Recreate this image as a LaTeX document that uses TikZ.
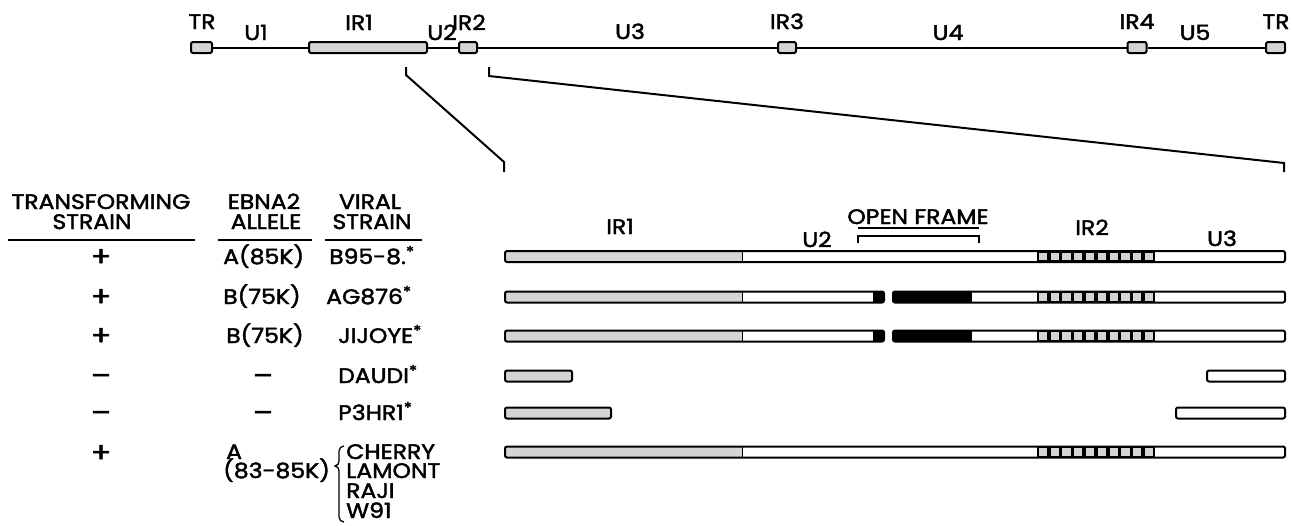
\documentclass[tikz,border=0pt]{standalone}
\usepackage{fontspec}
\setmainfont{Poppins}
\newfontfamily\lblfont{Poppins}[FakeBold=2,FakeStretch=1.12]
\definecolor{stipgray}{RGB}{212,212,212}
\newcommand\ckr[1]{%
  \fill[black] (1037,#1-5.5) rectangle (1155,#1+5.5);
  \foreach \i in {0,...,9}{\fill[stipgray] (1038.8+\i*11.8,#1-3.8) rectangle ++(8.2,7.6);}
}
\newcommand\myast{\raisebox{7pt}{\fontsize{15}{15}\selectfont *}}
\begin{document}
\begin{tikzpicture}[x=1pt,y=-1pt,
  lbl/.style={font=\lblfont\fontsize{21}{22}\selectfont, inner sep=0pt, anchor=base, text height=14pt, text depth=0pt},
  lblw/.style={lbl, anchor=base west},
  sign/.style={lbl, font=\lblfont\fontsize{27}{28}\selectfont},
  topbox/.style={draw, line width=2pt, fill=stipgray, rounded corners=2pt, inner sep=0pt, minimum height=11pt},
  outl/.style={draw=black, line width=2pt, rounded corners=2pt},
  lin/.style={line width=2pt},
  rule/.style={line width=1.8pt}
]
\useasboundingbox (0,0) rectangle (1292,525);
% ---------- top genome map ----------
\node[topbox, minimum width=21pt] (tr1) at (201.5,47.5) {};
\node[topbox, minimum width=118pt] (ir1) at (368,47.5) {};
\node[topbox, minimum width=18pt] (ir2) at (468,47.5) {};
\node[topbox, minimum width=18pt] (ir3) at (787,47.5) {};
\node[topbox, minimum width=19pt] (ir4) at (1137,47.5) {};
\node[topbox, minimum width=19pt] (tr2) at (1275.5,47.5) {};
\draw[lin] (tr1.east) -- (ir1.west);
\draw[lin] (ir1.east) -- (ir2.west);
\draw[lin] (ir2.east) -- (ir3.west);
\draw[lin] (ir3.east) -- (ir4.west);
\draw[lin] (ir4.east) -- (tr2.west);
\node[lbl] (ltr1) at (202,29) {TR};
\node[lbl] (lu1) at (256,40) {U1};
\node[lbl] (lir1) at (359,30) {IR1};
\node[lbl] (lu2) at (442,40) {U2};
\node[lbl] (lir2) at (469,30) {IR2};
\node[lbl] (lu3) at (630,39) {U3};
\node[lbl] (lir3) at (787,29) {IR3};
\node[lbl] (lu4) at (948,40) {U4};
\node[lbl] (lir4) at (1137,29) {IR4};
\node[lbl] (lu5) at (1195,40) {U5};
\node[lbl] (ltr2) at (1276,29) {TR};
% ---------- expansion lines ----------
\coordinate (ea) at (406,67);
\coordinate (eb) at (504,172);
\coordinate (ec) at (489,67);
\coordinate (ed) at (1284,172);
\draw[lin] (ea) -- (406,75) -- (504,162) -- (eb);
\draw[lin] (ec) -- (489,76) -- (1284,163) -- (ed);
% ---------- labels above bars ----------
\node[lbl] (bir1) at (620,234) {IR1};
\node[lbl] (bu2) at (817,247) {U2};
\node[lbl] (bof) at (918,224) {OPEN FRAME};
\draw[line width=1.4pt] (858,228) -- (979,228);
\draw[line width=1.8pt] (858,243) -- (858,236) -- (979,236) -- (979,243);
\node[lbl] (bir2) at (1092,235) {IR2};
\node[lbl] (bu3) at (1222,246) {U3};
% ---------- table headings ----------
\node[lbl] (h1a) at (101,209) {TRANSFORMING};
\node[lbl] (h1b) at (92,229) {STRAIN};
\node[lbl] (h2a) at (264,209) {EBNA2};
\node[lbl] (h2b) at (266,229) {ALLELE};
\node[lbl] (h3a) at (370,209) {VIRAL};
\node[lbl] (h3b) at (372,229) {STRAIN};
\draw[rule] (8,240) -- (195,240);
\draw[rule] (218,240) -- (312,240);
\draw[rule] (325,240) -- (422,240);
% ---------- table rows ----------
\foreach \y/\n in {266/p1,306/p2,345/p3,462/p6}{\node[sign] (\n) at (101,\y) {+};}
\foreach \y/\n in {385/m4,422/m5}{\node[sign] (\n) at (101,\y) {\textendash};}
\node[lblw] (a1) at (223,264) {A(85K)};
\node[lblw] (a2) at (223,304) {B(75K)};
\node[lblw] (a3) at (226,343) {B(75K)};
\node[sign] (a4) at (263,385) {\textendash};
\node[sign] (a5) at (263,422) {\textendash};
\node[lblw] (a6) at (226,459) {A};
\node[lblw] (a6b) at (223,478) {(83-85K)};
\node[lblw] (v1) at (329,264) {B95-8.\myast};
\node[lblw] (v2) at (326,304) {AG876\myast};
\node[lblw] (v3) at (338,343) {JIJOYE\myast};
\node[lblw] (v4) at (338,383) {DAUDI\myast};
\node[lblw] (v5) at (338,420) {P3HR1\myast};
\node[lblw] (v6a) at (346,459) {CHERRY};
\node[lblw] (v6b) at (346,478) {LAMONT};
\node[lblw] (v6c) at (346,498) {RAJI};
\node[lblw] (v6d) at (346,518) {W91};
\draw[line width=1.3pt] (344,446) to[out=180,in=90] (339,451) -- (339,461) to[out=-90,in=0] (335,466) to[out=0,in=90] (339,471) -- (339,517) to[out=-90,in=180] (344,522);
% ---------- bars ----------
\foreach \y in {256.5,452}{
  \fill[stipgray] (505,\y-5.5) rectangle (742,\y+5.5);
  \fill[white] (742,\y-5.5) rectangle (1037,\y+5.5);
  \ckr{\y}
  \draw[line width=1pt] (742,\y-5.5) -- (742,\y+5.5);
  \draw[outl] (505,\y-5.5) rectangle (1285,\y+5.5);
}
\foreach \y in {297,336}{
  \fill[stipgray] (505,\y-5.5) rectangle (742,\y+5.5);
  \fill[white] (742,\y-5.5) rectangle (873,\y+5.5);
  \fill[black] (873,\y-5.5) rectangle (884,\y+5.5);
  \draw[line width=1pt] (742,\y-5.5) -- (742,\y+5.5);
  \draw[outl] (505,\y-5.5) rectangle (884,\y+5.5);
  \fill[black] (893,\y-5.5) rectangle (972,\y+5.5);
  \fill[white] (972,\y-5.5) rectangle (1037,\y+5.5);
  \ckr{\y}
  \draw[outl] (893,\y-5.5) rectangle (1285,\y+5.5);
}
\fill[stipgray] (505,370.5) rectangle (572,381.5);
\draw[outl] (505,370.5) rectangle (572,381.5);
\draw[outl] (1207,370.5) rectangle (1285,381.5);
\fill[stipgray] (505,407.5) rectangle (611,418.5);
\draw[outl] (505,407.5) rectangle (611,418.5);
\draw[outl] (1176,407.5) rectangle (1285,418.5);
\end{tikzpicture}
\end{document}
